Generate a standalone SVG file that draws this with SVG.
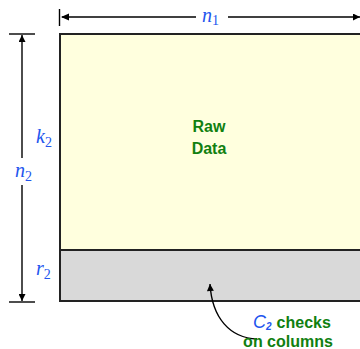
<svg xmlns="http://www.w3.org/2000/svg" width="360" height="349" viewBox="0 0 360 349">
<style>
.dim{stroke:#000;stroke-width:1.4;fill:none}
.lbl{font-family:"Liberation Serif",serif;font-style:italic;font-size:20px;fill:#2255ee}
.sub{font-size:14px;font-style:normal}
.grn{font-family:"Liberation Sans",Arial,sans-serif;font-weight:bold;font-size:16px;fill:#108010}
</style>
<defs>
<marker id="ah" viewBox="0 0 10 10" refX="10" refY="5" markerWidth="8" markerHeight="7" orient="auto" markerUnits="userSpaceOnUse">
<path d="M0,0 L10,5 L0,10 z" fill="#000"/>
</marker>
</defs>
<g id="raw">
<rect x="60" y="34" width="302" height="216" fill="#ffffde" stroke="#222" stroke-width="2"/>
<text class="grn" x="209" y="132" text-anchor="middle">Raw</text>
<text class="grn" x="209" y="154" text-anchor="middle">Data</text>
</g>
<g id="checks">
<rect x="60" y="250" width="302" height="51" fill="#d9d9d9" stroke="#222" stroke-width="2"/>
</g>
<g id="connectors">
<line class="dim" x1="59.5" y1="9" x2="59.5" y2="26"/>
<line class="dim" x1="62" y1="17" x2="196" y2="17"/>
<path d="M61,17 L69,13.5 L69,20.5 z" fill="#000"/>
<line class="dim" x1="228" y1="17" x2="360" y2="17" marker-end="url(#ah)"/>
<line class="dim" x1="9" y1="34" x2="35" y2="34"/>
<line class="dim" x1="9" y1="302" x2="35" y2="302"/>
<line class="dim" x1="22" y1="158" x2="22" y2="35" marker-end="url(#ah)"/>
<line class="dim" x1="22" y1="185" x2="22" y2="301" marker-end="url(#ah)"/>
<path class="dim" d="M257,339 C230,338 212,318 210,284" marker-end="url(#ah)"/>
</g>
<g id="labels">
<text class="lbl" x="202" y="22">n<tspan class="sub" dy="3">1</tspan></text>
<text class="lbl" x="36" y="143">k<tspan class="sub" dy="4">2</tspan></text>
<text class="lbl" x="15" y="177">n<tspan class="sub" dy="4">2</tspan></text>
<text class="lbl" x="36" y="275">r<tspan class="sub" dy="4">2</tspan></text>
<text x="253" y="328"><tspan font-family="Liberation Sans,Arial,sans-serif" font-style="italic" font-size="18" fill="#2255ee">C</tspan><tspan font-family="Liberation Sans,Arial,sans-serif" font-style="italic" font-weight="bold" font-size="10" fill="#2255ee" dy="2">2</tspan><tspan class="grn" dy="-2" dx="5">checks</tspan></text>
<text class="grn" x="288" y="347" text-anchor="middle">on columns</text>
</g>
</svg>
